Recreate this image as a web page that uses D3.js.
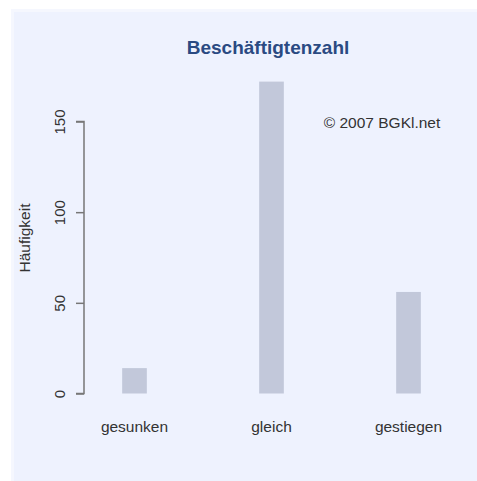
<!DOCTYPE html>
<html>
<head>
<meta charset="utf-8">
<script src="https://cdn.jsdelivr.net/npm/d3@7"></script>
<style>
  html, body { margin: 0; padding: 0; overflow: hidden; background: #eef2fe; }
  svg { display: block; }
  text { font-family: "Liberation Sans", Arial, sans-serif; }
</style>
</head>
<body>
<svg width="477" height="481"></svg>
<script>
const categories = ['gesunken', 'gleich', 'gestiegen'];
const counts = [14, 172, 56];
const yTicks = [0, 50, 100, 150];

const svg = d3.select('svg');

// white margin, then the light panel behind the plot
svg.append('rect')
  .attr('width', 477).attr('height', 481)
  .attr('fill', '#fff');
svg.append('rect')
  .attr('x', 11).attr('y', 9)
  .attr('width', 477 - 11).attr('height', 481 - 9)
  .attr('fill', '#f5f7fe');
svg.append('rect')
  .attr('x', 14).attr('y', 12)
  .attr('width', 477 - 14).attr('height', 481 - 12)
  .attr('fill', '#eef2fe');

const y = d3.scaleLinear().domain([0, 150]).range([393.5, 121.5]);
const x = d3.scaleBand().domain(categories).range([66, 477]).paddingInner(0.82).paddingOuter(0.41);

svg.append('g')
  .selectAll('rect')
  .data(categories)
  .enter()
  .append('rect')
  .attr('x', (d) => x(d))
  .attr('width', x.bandwidth())
  .attr('y', (d, i) => y(counts[i]))
  .attr('height', (d, i) => y(0) - y(counts[i]))
  .attr('fill', '#c2c8da');

// y axis
const yAxis = svg.append('g')
  .attr('transform', 'translate(84,0)')
  .call(d3.axisLeft(y).tickValues(yTicks).tickSize(8));
yAxis.select('.domain').attr('stroke', '#777').attr('stroke-width', 1.5)
  .attr('d', 'M-8,' + y(150) + 'H0V' + y(0) + 'H-8');
yAxis.selectAll('.tick line').attr('stroke', '#777').attr('stroke-width', 1.5);
yAxis.selectAll('.tick text')
  .attr('x', null).attr('dy', null)
  .attr('transform', 'translate(-24,0) rotate(-90)')
  .attr('text-anchor', 'middle')
  .attr('y', 5)
  .attr('fill', '#333')
  .style('font-family', '"Liberation Sans", Arial, sans-serif')
  .style('font-size', '15px');

// x labels
svg.append('g')
  .selectAll('text')
  .data(categories)
  .enter()
  .append('text')
  .attr('x', (d) => x(d) + x.bandwidth() / 2)
  .attr('y', 432)
  .attr('text-anchor', 'middle')
  .attr('fill', '#333')
  .style('font-size', '15.5px')
  .text((d) => d);

svg.append('text')
  .attr('transform', 'translate(30,238) rotate(-90)')
  .attr('text-anchor', 'middle')
  .attr('fill', '#333')
  .style('font-size', '15.5px')
  .text('Häufigkeit');

svg.append('text')
  .attr('x', 268).attr('y', 54)
  .attr('text-anchor', 'middle')
  .attr('fill', '#2a4a82')
  .style('font-size', '19px')
  .style('font-weight', 'bold')
  .text('Beschäftigtenzahl');

svg.append('text')
  .attr('x', 382).attr('y', 128)
  .attr('text-anchor', 'middle')
  .attr('fill', '#333')
  .style('font-size', '15.5px')
  .text('© 2007 BGKl.net');
</script>
</body>
</html>
